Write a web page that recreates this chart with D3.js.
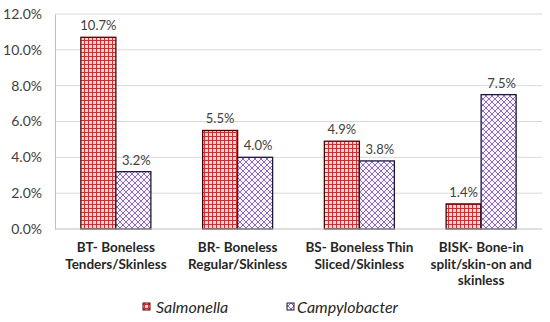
<!DOCTYPE html>
<html><head><meta charset="utf-8">
<script src="https://cdn.jsdelivr.net/npm/d3@7"></script>
<style>body{margin:0;background:#fff}svg{display:block}</style>
</head><body>
<script>
const categories = [
  ["BT- Boneless","Tenders/Skinless"],
  ["BR- Boneless","Regular/Skinless"],
  ["BS- Boneless Thin","Sliced/Skinless"],
  ["BISK- Bone-in","split/skin-on and","skinless"]
];
const series = ["Salmonella","Campylobacter"];
const salmonella = [10.7, 5.5, 4.9, 1.4];
const campylobacter = [3.2, 4.0, 3.8, 7.5];
const yTicks = [0,2,4,6,8,10,12];

const W=550,H=322;
const m={l:55,r:8,t:14,b:93};
const svg=d3.select("body").append("svg").attr("width",W).attr("height",H);
const font="Lato, 'Open Sans', sans-serif";
const defs=svg.append("defs");
const p1=defs.append("pattern").attr("id","pS").attr("patternUnits","userSpaceOnUse").attr("width",4).attr("height",4);
p1.append("rect").attr("width",4).attr("height",4).attr("fill","#ffd6d6");
p1.append("rect").attr("x",0).attr("y",0).attr("width",4).attr("height",1).attr("fill","#e3262b");
p1.append("rect").attr("x",0).attr("y",0).attr("width",1).attr("height",4).attr("fill","#e3262b");
const p2=defs.append("pattern").attr("id","pC").attr("patternUnits","userSpaceOnUse").attr("width",6).attr("height",6);
p2.append("rect").attr("width",6).attr("height",6).attr("fill","#fbf3ff");
p2.append("path").attr("d","M0,0L6,6M6,0L0,6").attr("stroke","#8a6cc0").attr("stroke-width",1);

const x0=d3.scaleBand().domain(d3.range(categories.length)).range([m.l,W-m.r]).paddingInner(0.425).paddingOuter(0.2125);
const x1=d3.scaleBand().domain(series).range([0,x0.bandwidth()]);
const y=d3.scaleLinear().domain([0,12]).range([H-m.b,m.t]);

svg.append("g").selectAll("line").data(yTicks.slice(1)).join("line")
  .attr("x1",m.l).attr("x2",W-m.r).attr("y1",d=>y(d)).attr("y2",d=>y(d))
  .attr("stroke","#d9d9d9").attr("stroke-width",1);
const ya=svg.append("g").attr("transform",`translate(${m.l},0)`)
  .call(d3.axisLeft(y).tickValues(yTicks).tickFormat(d=>d.toFixed(1)+"%").tickSize(0).tickPadding(13));
ya.select(".domain").attr("stroke","#bfbfbf");
ya.selectAll("text").attr("font-family",font).attr("font-size",14).attr("fill","#404040");

const data=[salmonella,campylobacter];
const fills=["url(#pS)","url(#pC)"];
const strokes=["#3a0a0a","#1a1a3a"];
series.forEach((s,si)=>{
  const g=svg.append("g");
  g.selectAll("rect").data(data[si]).join("rect")
    .attr("x",(d,i)=>x0(i)+x1(s)).attr("width",x1.bandwidth())
    .attr("y",d=>y(d)).attr("height",d=>y(0)-y(d))
    .attr("fill",fills[si]).attr("stroke",strokes[si]).attr("stroke-width",1.3);
  g.selectAll("text").data(data[si]).join("text")
    .attr("x",(d,i)=>x0(i)+x1(s)+x1.bandwidth()/2+(si===1?3:0))
    .attr("y",d=>y(d)-7).attr("text-anchor","middle")
    .attr("font-family",font).attr("font-size",13).attr("fill","#404040")
    .text(d=>d.toFixed(1)+"%");
});
svg.append("line").attr("x1",m.l).attr("x2",W-m.r).attr("y1",y(0)).attr("y2",y(0)).attr("stroke","#bfbfbf");
const cl=svg.append("g");
categories.forEach((c,i)=>{
  const t=cl.append("text").attr("text-anchor","middle").attr("font-family",font)
    .attr("font-size",13.5).attr("font-weight","bold").attr("fill","#262626");
  c.forEach((line,k)=>t.append("tspan").attr("x",x0(i)+x0.bandwidth()/2).attr("y",252+k*16.5).text(line));
});
const leg=svg.append("g");
const lx=[143,287], tx=[156,297];
series.forEach((s,si)=>{
  leg.append("rect").attr("x",lx[si]).attr("y",303).attr("width",7).attr("height",7)
    .attr("fill",fills[si]).attr("stroke",strokes[si]).attr("stroke-width",1);
  leg.append("text").attr("x",tx[si]).attr("y",313).attr("font-family",font)
    .attr("font-size",16).attr("font-style","italic").attr("fill","#262626").text(s);
});
</script>
</body></html>
